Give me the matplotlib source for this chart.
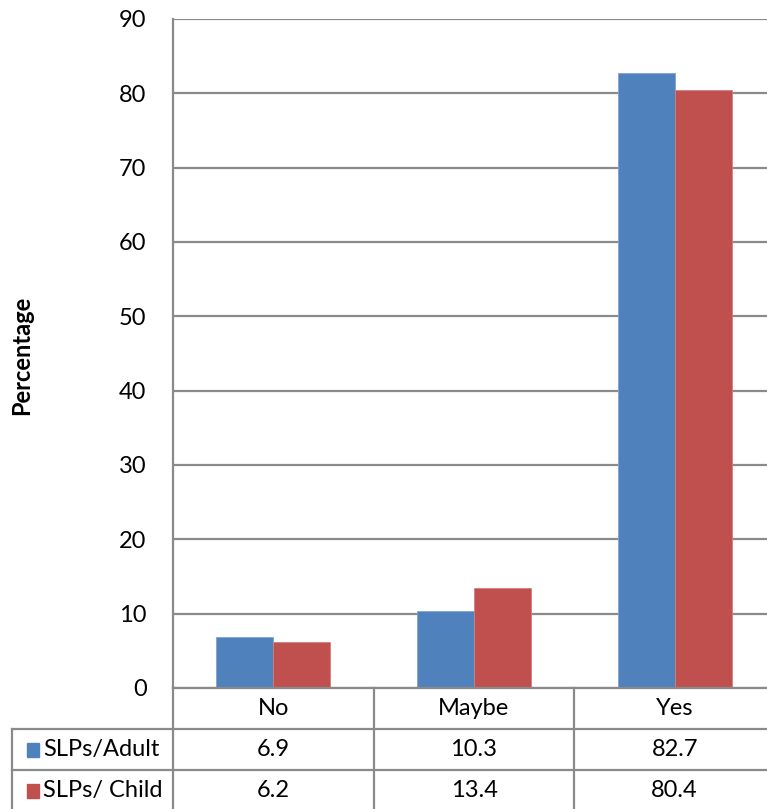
import matplotlib
matplotlib.use('Agg')
import matplotlib.pyplot as plt
from matplotlib.transforms import blended_transform_factory
from matplotlib.lines import Line2D
from matplotlib.patches import Rectangle
import numpy as np

categories = ['No', 'Maybe', 'Yes']
series_names = ['SLPs/Adult', 'SLPs/ Child']
adult = [6.9, 10.3, 82.7]
child = [6.2, 13.4, 80.4]
adult_labels = ['6.9', '10.3', '82.7']
child_labels = ['6.2', '13.4', '80.4']
yticks = [0, 10, 20, 30, 40, 50, 60, 70, 80, 90]

plt.rcParams['font.family'] = ['Lato', 'DejaVu Sans']

W, H = 767, 809
fig = plt.figure(figsize=(W / 100, H / 100), dpi=100)

# axes placed in pixel terms, right edge runs past the image like the original
ax_left, ax_right, ax_top, ax_bottom = 173, 775, 19, 688
ax = fig.add_axes([ax_left / W, (H - ax_bottom) / H,
                   (ax_right - ax_left) / W, (ax_bottom - ax_top) / H])

grid_c = '#8a8a8a'
blue = '#4F81BD'
red = '#C0504D'
bw = 0.284
fs = 17

x = np.arange(len(categories))
ax.bar(x - bw / 2, adult, width=bw, color=blue, edgecolor='#7fa3d0', linewidth=0.6, zorder=3)
ax.bar(x + bw / 2, child, width=bw, color=red, edgecolor='#d27f7d', linewidth=0.6, zorder=3)

ax.set_xlim(-0.5, len(categories) - 0.5)
ax.set_ylim(0, 90)
ax.set_yticks(yticks)
ax.set_yticklabels([str(t) for t in yticks], fontsize=fs)
ax.tick_params(axis='y', length=0, pad=19)
ax.set_xticks([])
ax.yaxis.grid(True, color=grid_c, linewidth=1.6)
ax.set_axisbelow(True)
for s in ['top', 'right', 'bottom']:
    ax.spines[s].set_visible(False)
ax.spines['left'].set_color(grid_c)
ax.spines['left'].set_linewidth(1.6)

fig.text(22 / W, (H - 355) / H, 'Percentage', rotation=90, fontsize=17,
         fontweight='bold', ha='center', va='center')

# data table under the axis
tr = blended_transform_factory(ax.transData, fig.transFigure)
def fy(py):
    return (H - py) / H

row_lines = [688, 729, 770, 811]
bounds = np.arange(len(categories) + 1) - 0.5
xmax = bounds[-1]

# horizontal lines
fig.add_artist(Line2D([bounds[0], xmax], [fy(row_lines[0])] * 2, transform=tr,
                      color=grid_c, lw=1.6))
for py in row_lines[1:]:
    fig.add_artist(Line2D([12 / W, 1.02], [fy(py)] * 2, transform=fig.transFigure,
                          color=grid_c, lw=1.6))
# vertical lines
for b in bounds:
    fig.add_artist(Line2D([b, b], [fy(row_lines[0]), fy(row_lines[-1])], transform=tr,
                          color=grid_c, lw=1.6))
fig.add_artist(Line2D([12 / W, 12 / W], [fy(row_lines[1]), fy(row_lines[-1])],
                      transform=fig.transFigure, color=grid_c, lw=1.6))

def mid(i):
    return fy((row_lines[i] + row_lines[i + 1]) / 2)

for i, c in enumerate(categories):
    fig.text(x[i], mid(0), c, transform=tr, ha='center', va='center', fontsize=fs)
    fig.text(x[i], mid(1), adult_labels[i], transform=tr, ha='center', va='center', fontsize=fs)
    fig.text(x[i], mid(2), child_labels[i], transform=tr, ha='center', va='center', fontsize=fs)

for i, (name, col) in enumerate(zip(series_names, [blue, red])):
    fig.add_artist(Rectangle((27 / W, mid(i + 1) - 7 / H), 12 / W, 14 / H,
                             transform=fig.transFigure, color=col))
    fig.text(43 / W, mid(i + 1), name, ha='left', va='center', fontsize=fs)

fig.savefig('out.png', dpi=100)
